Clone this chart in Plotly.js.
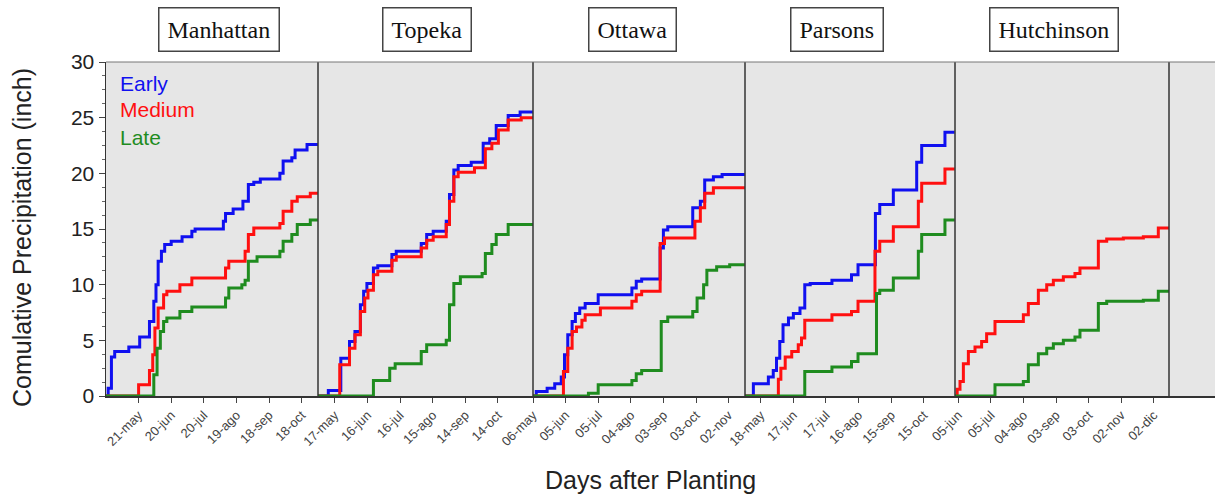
<!DOCTYPE html>
<html>
<head>
<meta charset="utf-8">
<script src="https://cdn.plot.ly/plotly-3.0.1.min.js"></script>
<style>html,body{margin:0;padding:0;background:#fff;}#chart{width:1215px;height:496px;}</style>
</head>
<body>
<div id="chart"></div>
<script>
// ---------------- DATA (days after start of each panel, cumulative inches) ----------------
const panelNames = ['Manhattan', 'Topeka', 'Ottawa', 'Parsons', 'Hutchinson'];
const seriesNames = ['Early', 'Medium', 'Late'];

// Manhattan
const manhattanEarlyDay = [0, 2, 5, 8, 21, 31, 40, 44, 46, 48, 51, 54, 60, 70, 79, 82, 108, 110, 117, 126, 131, 136, 142, 160, 163, 171, 174, 185, 195];
const manhattanEarly    = [0, 0.7, 3.5, 4.0, 4.4, 5.3, 6.7, 8.5, 10.0, 12.1, 13.0, 13.6, 13.9, 14.3, 14.8, 15.0, 15.7, 16.4, 16.8, 17.5, 19.0, 19.2, 19.5, 20.0, 21.1, 21.4, 22.1, 22.6, 22.6];
const manhattanMediumDay = [0, 30, 40, 43, 45, 48, 53, 56, 68, 79, 110, 113, 128, 131, 136, 160, 163, 171, 176, 188, 195];
const manhattanMedium    = [0, 1.0, 2.3, 3.7, 6.1, 7.9, 9.1, 9.4, 10.0, 10.6, 11.5, 12.1, 13.0, 14.5, 15.1, 15.5, 16.6, 17.5, 17.9, 18.2, 18.2];
const manhattanLateDay = [0, 44, 47, 50, 53, 56, 68, 79, 110, 113, 125, 128, 131, 139, 160, 163, 171, 176, 188, 195];
const manhattanLate    = [0, 1.9, 4.3, 5.8, 6.7, 7.0, 7.6, 8.0, 8.8, 9.7, 10.0, 10.4, 12.1, 12.5, 13.0, 13.9, 14.5, 15.4, 15.8, 15.8];

// Topeka
const topekaEarlyDay = [0, 9.5, 21, 29, 34, 39, 42, 45, 51, 55, 68, 72, 95, 100, 106, 118, 121, 125, 129, 141, 152, 158, 164, 175, 186, 198];
const topekaEarly    = [0, 0.5, 3.4, 4.9, 5.8, 8.2, 9.4, 10.1, 11.5, 11.7, 12.7, 13.0, 13.7, 14.5, 14.8, 15.7, 18.1, 20.3, 20.7, 21.0, 22.7, 23.1, 24.3, 25.2, 25.5, 25.5];
const topekaMediumDay = [0, 20, 29, 34, 39, 43, 46, 51, 55, 68, 72, 95, 100, 106, 118, 121, 125, 129, 144, 154, 160, 166, 175, 187, 198];
const topekaMedium    = [0, 2.8, 4.3, 5.5, 7.6, 8.8, 9.5, 10.9, 11.2, 12.2, 12.5, 13.3, 14.0, 14.3, 15.4, 17.5, 19.7, 20.1, 20.5, 22.2, 22.7, 23.9, 24.8, 25.0, 25.0];
const topekaLateDay = [0, 51, 66, 71, 95, 100, 118, 121, 125, 131, 151, 154, 160, 164, 175, 198];
const topekaLate    = [0, 1.4, 2.5, 2.9, 4.0, 4.6, 5.0, 8.2, 10.1, 10.7, 11.0, 12.8, 13.6, 14.5, 15.4, 15.4];

// Ottawa
const ottawaEarlyDay = [0, 3, 13, 20, 26, 29, 32, 36, 39, 43, 48, 60, 91, 95, 100, 117, 120, 124, 147, 154, 158, 166, 174, 195];
const ottawaEarly    = [0, 0.4, 0.7, 1.1, 1.7, 3.7, 5.5, 6.7, 7.4, 7.9, 8.3, 9.1, 9.7, 10.3, 10.5, 13.3, 14.9, 15.2, 16.9, 17.5, 19.4, 19.7, 19.9, 19.9];
const ottawaMediumDay = [0, 28, 32, 36, 40, 45, 48, 62, 91, 95, 100, 117, 121, 149, 154, 158, 166, 195];
const ottawaMedium    = [0, 2.2, 4.3, 5.8, 6.2, 6.8, 7.3, 7.9, 8.5, 9.1, 9.4, 13.7, 14.2, 15.7, 16.9, 18.2, 18.7, 18.7];
const ottawaLateDay = [0, 51, 60, 91, 95, 100, 118, 124, 147, 151, 157, 160, 169, 181, 195];
const ottawaLate    = [0, 0.24, 1.0, 1.4, 2.0, 2.3, 6.7, 7.1, 7.6, 8.8, 10.0, 11.3, 11.6, 11.8, 11.8];

// Parsons
const parsonsEarlyDay = [0, 7.7, 21.5, 26, 29, 32, 35, 40, 44.5, 50.6, 55, 60, 80, 98, 104, 120, 124, 136.5, 158, 162.6, 184, 193];
const parsonsEarly    = [0, 1.1, 1.7, 2.3, 3.4, 4.9, 6.4, 7.0, 7.4, 7.9, 10.0, 10.1, 10.4, 10.9, 11.8, 16.4, 17.2, 18.5, 21.0, 22.5, 23.7, 23.7];
const parsonsMediumDay = [0, 30.7, 33, 37, 43, 49, 52, 55, 80, 98, 104, 119.6, 124, 136.5, 159.5, 162.6, 184, 193];
const parsonsMedium    = [0, 1.5, 2.5, 3.5, 4.0, 4.6, 5.2, 6.8, 7.3, 7.6, 8.5, 13.0, 13.9, 15.2, 17.5, 19.1, 20.4, 20.4];
const parsonsLateDay = [0, 55, 80, 98, 104, 121, 124, 136.5, 159.5, 162.6, 184, 193];
const parsonsLate    = [0, 2.2, 2.6, 3.1, 3.8, 9.2, 9.5, 10.6, 13.0, 14.5, 15.8, 15.8];

// Hutchinson (no Early series)
const hutchinsonMediumDay = [0, 2, 4.6, 7.7, 12.3, 18.4, 24.5, 29.1, 36.8, 62.9, 67.5, 76.7, 84.4, 90.5, 99.7, 110.4, 115, 131.9, 139.6, 154.9, 173.3, 187.1, 197];
const hutchinsonMedium    = [0, 0.6, 1.3, 2.9, 4.0, 4.4, 4.9, 5.6, 6.7, 7.3, 8.3, 9.5, 10.0, 10.4, 10.7, 11.0, 11.5, 13.9, 14.1, 14.2, 14.3, 15.1, 15.1];
const hutchinsonLateDay = [0, 36.8, 62.9, 67.5, 76.7, 84.4, 90.5, 99.7, 110.4, 115, 131.9, 139.6, 173.3, 187.1, 197];
const hutchinsonLate    = [0, 1.0, 1.3, 2.8, 3.8, 4.3, 4.7, 5.0, 5.3, 5.9, 8.3, 8.5, 8.6, 9.4, 9.4];

// tick positions (days) and labels per panel
const manhattanTickDay = [30, 60, 90, 120, 150, 180];
const manhattanTickText = ['21-may', '20-jun', '20-jul', '19-ago', '18-sep', '18-oct'];
const topekaTickDay = [15.5, 45.5, 75.5, 105.5, 135.5, 165.5];
const topekaTickText = ['17-may', '16-jun', '16-jul', '15-ago', '14-sep', '14-oct'];
const ottawaTickDay = [0, 30, 60, 90, 120, 150, 180];
const ottawaTickText = ['06-may', '05-jun', '05-jul', '04-ago', '03-sep', '03-oct', '02-nov'];
const parsonsTickDay = [14.5, 44.5, 74.5, 104.5, 134.5, 164.5];
const parsonsTickText = ['18-may', '17-jun', '17-jul', '16-ago', '15-sep', '15-oct'];
const hutchinsonTickDay = [3, 33, 63, 93, 123, 153, 183];
const hutchinsonTickText = ['05-jun', '05-jul', '04-ago', '03-sep', '03-oct', '02-nov', '02-dic'];

const yTickVals = [0, 5, 10, 15, 20, 25, 30];

// ---------------- STYLE / LAYOUT ----------------
const colors = {Early: '#1010f0', Medium: '#ff1010', Late: '#1f8c1f'};
const W = 1215, H = 496, ML = 106, MT = 62, MB = 100;
const plotW = W - ML;
const bounds = [106, 318, 533, 745, 955, 1169, 1215];
const pxPerDay = 1.0867;

const panelData = [
  {ticks: manhattanTickDay, labels: manhattanTickText, s: [[manhattanEarlyDay, manhattanEarly], [manhattanMediumDay, manhattanMedium], [manhattanLateDay, manhattanLate]]},
  {ticks: topekaTickDay, labels: topekaTickText, s: [[topekaEarlyDay, topekaEarly], [topekaMediumDay, topekaMedium], [topekaLateDay, topekaLate]]},
  {ticks: ottawaTickDay, labels: ottawaTickText, s: [[ottawaEarlyDay, ottawaEarly], [ottawaMediumDay, ottawaMedium], [ottawaLateDay, ottawaLate]]},
  {ticks: parsonsTickDay, labels: parsonsTickText, s: [[parsonsEarlyDay, parsonsEarly], [parsonsMediumDay, parsonsMedium], [parsonsLateDay, parsonsLate]]},
  {ticks: hutchinsonTickDay, labels: hutchinsonTickText, s: [null, [hutchinsonMediumDay, hutchinsonMedium], [hutchinsonLateDay, hutchinsonLate]]}
];

const traces = [];
const layout = {
  width: W, height: H,
  margin: {l: ML, r: 0, t: MT, b: MB, pad: 0},
  paper_bgcolor: '#ffffff',
  plot_bgcolor: '#e6e6e6',
  showlegend: false,
  font: {family: 'Liberation Sans, Arial, sans-serif', color: '#222'},
  yaxis: {
    domain: [0, 1], range: [0, 30], anchor: 'x',
    tickvals: yTickVals, ticks: 'outside', ticklen: 6, tickwidth: 1, tickcolor: '#444',
    minor: {dtick: 1.25, ticks: 'outside', ticklen: 3, tickcolor: '#666'},
    showline: true, linecolor: '#333', linewidth: 1.5,
    showgrid: false, zeroline: false,
    tickfont: {size: 21, color: '#222'}
  },
  shapes: [],
  annotations: []
};

panelData.forEach((p, i) => {
  const ax = i === 0 ? 'x' : 'x' + (i + 1);
  const key = i === 0 ? 'xaxis' : 'xaxis' + (i + 1);
  const d0 = (bounds[i] - ML) / plotW, d1 = (bounds[i + 1] - ML) / plotW;
  layout[key] = {
    domain: [d0, d1], range: [0, (bounds[i + 1] - bounds[i]) / pxPerDay], anchor: 'y',
    tickvals: p.ticks, ticktext: p.labels, tickangle: -45,
    ticks: 'outside', ticklen: 5, tickwidth: 1, tickcolor: '#444',
    tickfont: {size: 13, color: '#444'},
    showline: true, linecolor: '#333', linewidth: 1.5,
    showgrid: false, zeroline: false
  };
  p.s.forEach((sd, k) => {
    if (!sd) return;
    const name = seriesNames[k];
    traces.push({
      x: sd[0], y: sd[1], xaxis: ax, yaxis: 'y', name: name,
      type: 'scatter', mode: 'lines',
      line: {shape: 'hv', color: colors[name], width: 3},
      cliponaxis: false
    });
  });
  // panel title box
  layout.annotations.push({
    xref: 'paper', yref: 'paper', x: ((bounds[i] + bounds[i + 1]) / 2 + [7, 1, -7, -13, -8][i] - ML) / plotW,
    y: 1 + (MT - 30) / (H - MT - MB), xanchor: 'center', yanchor: 'middle',
    text: panelNames[i], showarrow: false,
    font: {family: 'Liberation Serif, Times New Roman, serif', size: 24, color: '#111'},
    bordercolor: '#444', borderwidth: 1.5, borderpad: 8, bgcolor: '#ffffff'
  });
});

// extra (empty) panel at the right
layout.xaxis6 = {domain: [(bounds[5] - ML) / plotW, 1], range: [0, 1], anchor: 'y',
  showline: true, linecolor: '#333', linewidth: 1.5, showticklabels: false, ticks: '', showgrid: false, zeroline: false};
traces.push({x: [], y: [], xaxis: 'x6', yaxis: 'y', type: 'scatter', mode: 'lines'});

// panel separators and top border
for (let i = 1; i <= 5; i++) {
  const xp = (bounds[i] - ML) / plotW;
  layout.shapes.push({type: 'line', xref: 'paper', yref: 'paper', x0: xp, x1: xp, y0: 0, y1: 1,
    line: {color: '#333', width: 1.5}, layer: 'above'});
}
layout.shapes.push({type: 'line', xref: 'paper', yref: 'paper', x0: 0, x1: 1, y0: 1, y1: 1,
  line: {color: '#777', width: 1}, layer: 'above'});

// legend text
const legendY = [83, 109, 137];
seriesNames.forEach((n, k) => {
  layout.annotations.push({
    xref: 'paper', yref: 'paper', x: (118 - ML) / plotW, y: 1 - (legendY[k] - MT) / (H - MT - MB),
    xanchor: 'left', yanchor: 'middle', showarrow: false, text: n,
    font: {size: 21, color: colors[n]}
  });
});

// axis titles
layout.annotations.push({
  xref: 'paper', yref: 'paper', x: (22 - ML) / plotW, y: 1 - (238 - MT) / (H - MT - MB),
  xanchor: 'center', yanchor: 'middle', showarrow: false, textangle: -90,
  text: 'Comulative Precipitation (inch)', font: {size: 25, color: '#222'}
});
layout.annotations.push({
  xref: 'paper', yref: 'paper', x: (650 - ML) / plotW, y: -(480 - (H - MB)) / (H - MT - MB),
  xanchor: 'center', yanchor: 'middle', showarrow: false,
  text: 'Days after Planting', font: {size: 25, color: '#222'}
});

Plotly.newPlot('chart', traces, layout, {staticPlot: true, displayModeBar: false});
</script>
</body>
</html>
